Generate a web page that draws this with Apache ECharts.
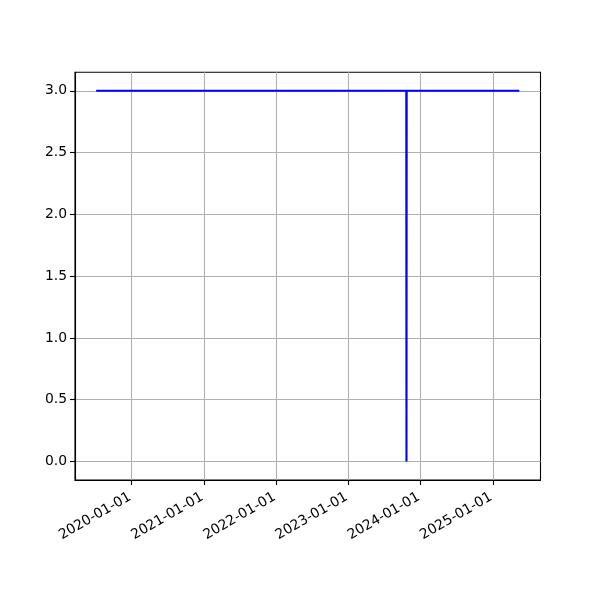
<!DOCTYPE html>
<html>
<head>
<meta charset="utf-8">
<script src="https://cdn.jsdelivr.net/npm/echarts@6/dist/echarts.min.js"></script>
<style>html,body{margin:0;padding:0;background:#fff;}#c{width:600px;height:600px;}</style>
</head>
<body>
<div id="c"></div>
<script>
const dates = ['2019-07-05', '2023-10-21', '2023-10-22', '2023-10-23', '2025-05-15'];
const values = [3, 3, 0, 3, 3];
const xTickLabels = ['2020-01-01', '2021-01-01', '2022-01-01', '2023-01-01', '2024-01-01', '2025-01-01'];
const yTickLabels = [0, 0.5, 1, 1.5, 2, 2.5, 3];

const ts = dates.map(d => Date.parse(d + 'T00:00:00Z'));
const xTicks = xTickLabels.map(d => Date.parse(d + 'T00:00:00Z'));
const tMin = Math.min(...ts), tMax = Math.max(...ts);
const pad = (tMax - tMin) * 0.05;
const vMin = Math.min(...values), vMax = Math.max(...values);
const vPad = (vMax - vMin) * 0.05;

function fmt(v) {
  const d = new Date(v);
  const p = n => String(n).padStart(2, '0');
  return d.getUTCFullYear() + '-' + p(d.getUTCMonth() + 1) + '-' + p(d.getUTCDate());
}

const chart = echarts.init(document.getElementById('c'), null, {renderer: 'canvas'});
const font = 'DejaVu Sans';
chart.setOption({
  animation: false,
  backgroundColor: '#ffffff',
  grid: {left: 75, right: 59.5, top: 72.3, bottom: 120, show: true, borderColor: '#000', borderWidth: 1.1, backgroundColor: 'transparent'},
  xAxis: {
    type: 'value',
    min: tMin - pad,
    max: tMax + pad,
    axisLine: {show: true, onZero: false, lineStyle: {color: '#000', width: 1.1}},
    axisTick: {show: true, inside: false, length: 5, customValues: xTicks, lineStyle: {color: '#000', width: 1.1}},
    axisLabel: {
      customValues: xTicks,
      formatter: v => fmt(v),
      rotate: 30,
      color: '#000',
      fontFamily: font,
      fontSize: 13.9,
      margin: 15,
      padding: [0, 2, 0, 0]
    },
    splitLine: {show: true, lineStyle: {color: '#b0b0b0', width: 1.1}}
  },
  yAxis: {
    type: 'value',
    min: vMin - vPad,
    max: vMax + vPad,
    axisLine: {show: true, onZero: false, lineStyle: {color: '#000', width: 1.1}},
    axisTick: {show: true, inside: false, length: 5, customValues: yTickLabels, lineStyle: {color: '#000', width: 1.1}},
    axisLabel: {
      customValues: yTickLabels,
      formatter: v => v.toFixed(1),
      color: '#000',
      fontFamily: font,
      fontSize: 13.9,
      margin: 8
    },
    splitLine: {show: true, lineStyle: {color: '#b0b0b0', width: 1.1}}
  },
  series: [{
    type: 'line',
    data: ts.map((t, i) => [t, values[i]]),
    showSymbol: false,
    symbol: 'none',
    lineStyle: {color: '#0000ff', width: 2.08},
    z: 5
  }]
});
</script>
</body>
</html>
